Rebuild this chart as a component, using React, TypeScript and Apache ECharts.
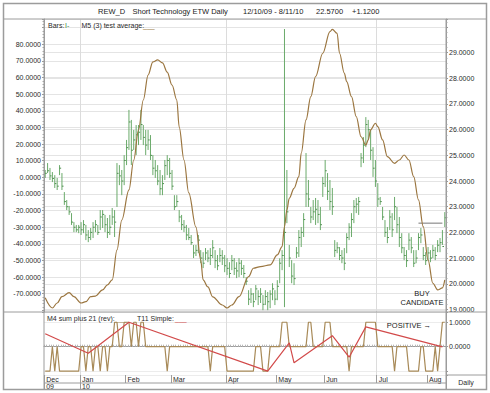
import React, { useEffect, useRef } from 'react';
import * as echarts from 'echarts';

const HOLIDAYS = ['2009-12-25', '2010-01-01', '2010-01-18', '2010-02-15', '2010-04-02', '2010-05-31', '2010-07-05'];
function buildDates(): string[] {
  const out: string[] = [];
  const d = new Date(Date.UTC(2009, 11, 10));
  const end = Date.UTC(2010, 7, 11);
  while (d.getTime() <= end) {
    const wd = d.getUTCDay();
    const s = d.toISOString().slice(0, 10);
    if (wd !== 0 && wd !== 6 && HOLIDAYS.indexOf(s) < 0) out.push(s);
    d.setUTCDate(d.getUTCDate() + 1);
  }
  return out;
}
const DATES = buildDates();
const MONTH_NAMES = ['Jan', 'Feb', 'Mar', 'Apr', 'May', 'Jun', 'Jul', 'Aug', 'Sep', 'Oct', 'Nov', 'Dec'];

const LOW = [24.12, 24.31, 24.04, 23.96, 23.73, 23.65, 24.23, 23.65, 23.07, 22.87,
  22.68, 22.29, 22.01, 22.01, 21.97, 21.90, 21.97, 21.70, 21.62, 21.70,
  21.78, 22.01, 21.90, 22.09, 22.17, 22.01, 21.78, 21.90, 22.29, 21.82,
  22.99, 23.84, 23.45, 23.84, 24.62, 25.21, 24.62, 25.21, 25.01, 25.40,
  25.60, 25.40, 25.01, 25.21, 24.82, 24.23, 24.12, 23.84, 23.45, 23.45,
  24.04, 24.23, 24.12, 23.65, 22.87, 22.99, 22.40, 22.09, 22.01, 21.70,
  21.70, 21.51, 21.00, 21.08, 21.19, 20.80, 20.61, 20.92, 20.84, 20.73,
  21.00, 20.61, 20.53, 20.84, 20.73, 20.45, 20.34, 20.22, 20.53, 20.34,
  20.22, 20.26, 20.34, 20.22, 19.95, 19.17, 19.25, 19.09, 19.36, 19.17,
  19.25, 18.97, 19.17, 18.97, 19.05, 19.36, 19.17, 19.36, 20.02, 20.53,
  19.09, 22.36, 20.65, 20.02, 19.95, 21.00, 21.04, 21.43, 21.82, 22.99,
  22.99, 22.36, 22.48, 22.29, 22.36, 22.09, 23.38, 23.77, 23.26, 22.87,
  22.68, 21.04, 21.19, 20.92, 20.80, 20.53, 21.19, 21.70, 21.82, 22.36,
  22.75, 22.68, 24.54, 24.70, 25.32, 25.60, 24.82, 24.16, 23.77, 22.99,
  23.07, 22.48, 21.82, 21.58, 22.09, 21.82, 22.48, 21.97, 21.43, 21.19,
  20.92, 20.65, 21.31, 21.19, 20.65, 20.80, 21.31, 21.58, 20.92, 20.73,
  20.92, 20.84, 21.00, 20.92, 21.23, 21.23, 21.51, 22.21];
const HIGH = [24.43, 24.70, 24.51, 24.35, 24.23, 24.12, 24.62, 24.31, 23.57, 23.26,
  23.03, 22.75, 22.40, 22.29, 22.29, 22.40, 22.48, 22.29, 22.09, 22.17,
  22.40, 22.48, 22.29, 22.87, 22.87, 22.68, 22.56, 22.68, 22.95, 22.87,
  24.70, 24.62, 24.43, 25.01, 25.60, 26.77, 26.38, 25.99, 26.18, 26.18,
  26.77, 26.18, 25.99, 25.99, 25.79, 25.01, 24.82, 24.62, 24.43, 24.23,
  24.82, 25.01, 24.90, 24.43, 23.45, 23.45, 22.87, 22.68, 22.48, 22.29,
  22.17, 21.90, 21.51, 21.51, 21.90, 21.31, 21.23, 21.39, 21.31, 21.39,
  21.70, 21.31, 21.12, 21.39, 21.31, 21.12, 21.00, 20.84, 21.12, 21.00,
  20.84, 21.00, 20.92, 20.73, 20.26, 19.75, 19.83, 19.64, 19.95, 19.75,
  19.83, 19.56, 19.75, 19.68, 19.75, 20.02, 19.75, 20.14, 20.99, 21.31,
  29.92, 24.43, 21.51, 20.92, 20.80, 21.43, 22.09, 22.21, 22.75, 25.09,
  24.04, 22.99, 23.26, 23.34, 23.26, 22.99, 24.16, 24.82, 24.31, 24.04,
  23.73, 21.70, 21.62, 21.43, 21.31, 21.39, 21.97, 22.36, 22.75, 23.26,
  23.34, 23.38, 25.09, 25.71, 26.49, 26.38, 25.99, 25.32, 24.82, 23.92,
  23.38, 22.99, 22.48, 22.21, 22.87, 22.75, 23.38, 22.99, 22.60, 21.97,
  21.43, 21.31, 21.97, 21.82, 21.31, 21.31, 21.97, 22.17, 21.43, 21.23,
  21.43, 21.31, 21.51, 21.43, 21.70, 21.78, 22.09, 22.79];
const CLOSE = [24.3, 24.4, 24.2, 24.1, 23.9, 23.8, 24.5, 23.8, 23.2, 23.0,
  22.8, 22.4, 22.2, 22.1, 22.2, 22.1, 22.3, 21.9, 21.8, 22.0,
  22.2, 22.3, 22.0, 22.6, 22.7, 22.3, 22.0, 22.2, 22.6, 22.4,
  24.3, 24.2, 24.0, 24.8, 25.3, 26.3, 25.2, 25.6, 25.8, 25.9,
  26.2, 25.7, 25.4, 25.6, 25.0, 24.5, 24.4, 24.0, 23.7, 23.9,
  24.6, 24.8, 24.3, 23.8, 23.0, 23.2, 22.6, 22.3, 22.2, 21.9,
  21.8, 21.6, 21.2, 21.3, 21.7, 21.0, 20.8, 21.2, 21.0, 21.1,
  21.4, 20.9, 20.7, 21.1, 21.0, 20.7, 20.6, 20.4, 20.9, 20.6,
  20.5, 20.8, 20.6, 20.4, 20.1, 19.4, 19.6, 19.3, 19.8, 19.5,
  19.6, 19.2, 19.5, 19.3, 19.6, 19.8, 19.4, 19.9, 20.8, 21.1,
  22.0, 22.8, 21.0, 20.3, 20.2, 21.2, 21.8, 22.0, 22.5, 23.5,
  23.3, 22.6, 22.8, 22.9, 22.7, 22.3, 23.9, 24.4, 23.6, 23.2,
  23.0, 21.3, 21.4, 21.1, 21.0, 20.8, 21.8, 22.2, 22.5, 23.0,
  23.1, 23.2, 24.9, 25.4, 26.2, 26.0, 25.2, 24.5, 24.0, 23.3,
  23.2, 22.6, 22.0, 21.8, 22.6, 22.1, 23.0, 22.3, 21.8, 21.4,
  21.1, 20.9, 21.7, 21.4, 20.8, 21.0, 21.8, 21.9, 21.1, 20.9,
  21.2, 21.0, 21.3, 21.1, 21.5, 21.6, 21.45, 22.57];

// M5 (3) test average: [day index, value] samples (left axis)
const M5 = [[0, -72.5], [3, -78.6], [5, -75.6], [7, -71.8], [10, -69.4], [12, -71.8], [15, -75.6], [17, -74.8], [19, -71.8], [21, -71.4], [24, -67.7], [26, -64.7], [28, -61.7], [30, -43.7], [32, -25.7], [35, -7.6], [37, 10.4], [39, 28.5], [41, 46.5], [43, 61.5], [45, 69.4], [47, 70.6], [49, 68.8], [51, 63.3], [53, 55.5], [55, 46.5], [56, 30.2], [58, 10.4], [60, -9.4], [63, -29.9], [65, -49.7], [66, -61.7], [68, -65.9], [70, -71.9], [74, -76.8], [76, -78.6], [78, -76.8], [81, -71.8], [85, -59.7], [87, -54.7], [90, -53.7], [94, -52.7], [97, -46.7], [99, -41.7], [100, -29.7], [101, -19.6], [102, -12.6], [104, -6.6], [106, 0.4], [107, 14.5], [109, 34.5], [111, 48.5], [113, 60.5], [116, 74.6], [119, 87.6], [120, 89.0], [122, 86.6], [123, 74.6], [125, 62.6], [126, 57.5], [128, 48.5], [130, 36.5], [132, 24.4], [134, 19.4], [135, 22.5], [136, 28.5], [138, 32.5], [139, 30.5], [141, 22.5], [143, 12.4], [146, 8.4], [148, 10.4], [150, 13.4], [152, 10.4], [154, 0.4], [156, -13.6], [158, -29.7], [160, -49.7], [162, -63.7], [164, -67.7], [166, -66.5], [167, -61.7]];

// M4 sum plus 21 (rev): daily values
const M4 = [-1, -1, -1, 0, -1, 0, -1, -1, -1, -1, -1, -1, -1, -1, -1,
  0, 0, -1, 0, 0, -1, 0, 0, -1, 0, 0, -1, 0, 0,
  1, 1, 0, 0, 1, 1, 1, 0, 1, 1, 0, 1, 1, 0,
  0, 0, 0, 0, 0, 0, 0, 0,
  -1,
  0, 0, 0, 0, 0, 0, 0, 0, 0, 0, 0, 0, 0, 0, 0, 0, 0,
  -1,
  0, 0, 0, 0, 0, 0,
  -1, -1, -1, -1, -1, -1, -1, -1, -1, -1, -1, -1,
  0, 0, 0,
  -1, -1, -1,
  0, 0, 0, 0, 0,
  1, 1, 1,
  0, 0, 0, 0, 0, 0, 0, 0,
  1, 1,
  0, 0, 0, 0, 0,
  1, 1, 1,
  0, 0, 0, 0, 0, 0, 0,
  -1,
  0, 0, 0, 0, 0, 0,
  1, 1, 1, 1, 1,
  0, 0, 0, 0, 0, 0, 0,
  -1,
  0, 0, 0, 0, 0,
  -1, -1, -1, -1, -1,
  0, 0,
  -1, -1, -1, -1,
  0, -1, 0, 1, 1];

// T11 Simple: vertices [day index, value]
const T11 = [[0, 0.53], [18, -0.27], [35, 1.0], [93, -1.0], [102, 0.16], [104, -0.66], [120, 0.45], [127, -0.43], [134, 0.81], [166, -0.01]];

// Buy level marker
const BUY_LEVEL = 22.36;
const BUY_FROM = 156;
const BUY_TO = 166;

const FONT = 'Liberation Sans, Arial, Helvetica, sans-serif';
const TXT = '#2a2a2a';
const FRAME = '#9c9c9c';
const GRID_C = '#e4e4e4';
const BAR_C = '#6aaa6a';
const M5_C = '#9b7640';
const M4_C = '#a88a58';
const T11_C = '#d24a4a';

const monthOf = (s: string) => parseInt(s.slice(5, 7), 10) - 1;
const isMonthStart = (i: number) => i === 0 || monthOf(DATES[i]) !== monthOf(DATES[i - 1]);
const isQuarterStart = (i: number) => i > 0 && isMonthStart(i) && [0, 3, 6].indexOf(monthOf(DATES[i])) >= 0;
const isYearStart = (i: number) => i === 0 || DATES[i].slice(0, 4) !== DATES[i - 1].slice(0, 4);

const fmt4 = (v: number) => v.toFixed(4);

export default function App() {
  const ref = useRef<HTMLDivElement>(null);
  useEffect(() => {
    document.body.style.margin = '0';
    const chart = echarts.init(ref.current!, null, { renderer: 'svg' });
    const bars = DATES.map((_, i) => [i, LOW[i], HIGH[i], CLOSE[i]]);
    const txt = (x: number, y: number, text: string, extra: any = {}) => ({
      type: 'text', x, y, z: 100,
      style: { text, fontSize: 7, fill: TXT, fontFamily: FONT, verticalAlign: 'middle', ...extra },
    });
    const option: any = {
      animation: false,
      backgroundColor: '#fff',
      grid: [
        { left: 44, top: 19, width: 402, height: 293 },
        { left: 44, top: 312, width: 402, height: 63 },
      ],
      xAxis: [
        {
          type: 'category', gridIndex: 0, data: DATES, boundaryGap: true,
          axisLine: { show: false }, axisTick: { show: false }, axisLabel: { show: false },
          splitLine: { show: true, interval: (i: number) => isQuarterStart(i), lineStyle: { color: '#dcdcdc', width: 1 } },
        },
        {
          type: 'category', gridIndex: 1, data: DATES, boundaryGap: true,
          axisLine: { show: true, lineStyle: { color: FRAME } },
          axisTick: { show: true, interval: 0, length: 2, inside: true, lineStyle: { color: '#b8b8b8' } },
          axisLabel: { show: false },
          splitLine: { show: true, interval: (i: number) => isQuarterStart(i), lineStyle: { color: '#dcdcdc', width: 1 } },
        },
        {
          type: 'category', gridIndex: 1, data: DATES, boundaryGap: true, position: 'bottom',
          axisLine: { show: false },
          axisTick: { show: true, interval: (i: number) => isMonthStart(i), length: 8, lineStyle: { color: FRAME } },
          axisLabel: {
            show: true, interval: (i: number) => isMonthStart(i), align: 'left', margin: 1, padding: [0, 0, 0, 1],
            fontSize: 7, color: TXT, fontFamily: FONT,
            formatter: (v: string) => MONTH_NAMES[monthOf(v)],
          },
          splitLine: { show: false },
        },
        {
          type: 'category', gridIndex: 1, data: DATES, boundaryGap: true, position: 'bottom', offset: 8,
          axisLine: { show: false },
          axisTick: { show: true, interval: (i: number) => isYearStart(i), length: 7, lineStyle: { color: FRAME } },
          axisLabel: {
            show: true, interval: (i: number) => isYearStart(i), align: 'left', margin: 0, padding: [0, 0, 0, 1],
            fontSize: 7, color: TXT, fontFamily: FONT,
            formatter: (v: string) => v.slice(2, 4),
          },
          splitLine: { show: false },
        },
      ],
      yAxis: [
        {
          type: 'value', gridIndex: 0, position: 'left', min: -81, max: 95.2, splitNumber: 17,
          axisLine: { show: true, lineStyle: { color: FRAME } },
          axisTick: { show: true, length: 2, lineStyle: { color: '#999' } },
          minorTick: { show: true, splitNumber: 5, length: 1.5, lineStyle: { color: '#aaa' } },
          axisLabel: {
            margin: 3, fontSize: 7, color: TXT, fontFamily: FONT,
            formatter: (v: number) => (v > -75 && v < 85 && Math.abs(v / 10 - Math.round(v / 10)) < 1e-6 ? fmt4(v) : ''),
          },
          splitLine: { show: true, lineStyle: { color: GRID_C } },
        },
        {
          type: 'value', gridIndex: 0, position: 'right', min: 18.9, max: 30.31, splitNumber: 11,
          axisLine: { show: true, lineStyle: { color: FRAME } },
          axisTick: { show: true, length: 2, lineStyle: { color: '#999' } },
          minorTick: { show: true, splitNumber: 5, length: 1.5, lineStyle: { color: '#aaa' } },
          axisLabel: {
            margin: 3, fontSize: 7, color: TXT, fontFamily: FONT,
            formatter: (v: number) => (v > 18.95 && v < 29.5 && Math.abs(v - Math.round(v)) < 1e-6 ? fmt4(v) : ''),
          },
          splitLine: { show: true, lineStyle: { color: GRID_C } },
        },
        {
          type: 'value', gridIndex: 1, position: 'right', min: -1.16, max: 1.42, splitNumber: 3,
          axisLine: { show: true, lineStyle: { color: FRAME } },
          axisTick: { show: true, length: 2, lineStyle: { color: '#999' } },
          axisLabel: {
            margin: 3, fontSize: 7, color: TXT, fontFamily: FONT,
            formatter: (v: number) => (Math.abs(v) < 1e-6 || Math.abs(v - 1) < 1e-6 ? fmt4(v) : ''),
          },
          splitLine: { show: true, lineStyle: { color: '#ececec' } },
        },
      ],
      series: [
        {
          type: 'custom', xAxisIndex: 0, yAxisIndex: 1, data: bars,
          encode: { x: 0, y: [1, 2, 3] },
          renderItem: (params: any, api: any) => {
            const x = api.value(0);
            const lo = api.coord([x, api.value(1)]);
            const hi = api.coord([x, api.value(2)]);
            const cl = api.coord([x, api.value(3)]);
            return {
              type: 'group',
              children: [
                { type: 'line', shape: { x1: lo[0], y1: lo[1], x2: hi[0], y2: hi[1] }, style: { stroke: BAR_C, lineWidth: 1 } },
                { type: 'line', shape: { x1: cl[0], y1: cl[1], x2: cl[0] + 1.6, y2: cl[1] }, style: { stroke: '#4f8f4f', lineWidth: 1 } },
              ],
            };
          },
          z: 2,
        },
        {
          type: 'line', xAxisIndex: 0, yAxisIndex: 1, data: [[BUY_FROM, BUY_LEVEL], [BUY_TO, BUY_LEVEL]],
          showSymbol: false, lineStyle: { color: '#777', width: 1 }, z: 3,
        },
        {
          type: 'line', xAxisIndex: 0, yAxisIndex: 0, data: M5, smooth: 0.35, smoothMonotone: 'x',
          showSymbol: false, lineStyle: { color: M5_C, width: 1.2 }, z: 4,
        },
        {
          type: 'line', xAxisIndex: 1, yAxisIndex: 2, data: M4,
          showSymbol: false, lineStyle: { color: M4_C, width: 1.2 }, z: 3,
        },
        {
          type: 'line', xAxisIndex: 1, yAxisIndex: 2, data: T11,
          showSymbol: false, lineStyle: { color: T11_C, width: 1.2 }, z: 4,
        },
      ],
      graphic: [
        { type: 'rect', z: 90, shape: { x: 3.5, y: 3.5, width: 483, height: 386 }, style: { fill: 'none', stroke: FRAME, lineWidth: 1.5 }, silent: true },
        { type: 'line', z: 90, shape: { x1: 3, y1: 19, x2: 487, y2: 19 }, style: { stroke: FRAME, lineWidth: 1 } },
        { type: 'line', z: 90, shape: { x1: 3, y1: 312, x2: 487, y2: 312 }, style: { stroke: FRAME, lineWidth: 1 } },
        { type: 'line', z: 90, shape: { x1: 446, y1: 375, x2: 487, y2: 375 }, style: { stroke: FRAME, lineWidth: 1 } },
        { type: 'line', z: 90, shape: { x1: 44, y1: 383, x2: 446, y2: 383 }, style: { stroke: FRAME, lineWidth: 1 } },
        { type: 'line', z: 90, shape: { x1: 44, y1: 19, x2: 44, y2: 390 }, style: { stroke: FRAME, lineWidth: 1 } },
        { type: 'line', z: 90, shape: { x1: 446, y1: 19, x2: 446, y2: 390 }, style: { stroke: FRAME, lineWidth: 1 } },
        txt(98, 11, 'REW_D', { fontSize: 7.5, fill: '#1a1a1a' }),
        txt(132.5, 11, 'Short Technology ETW Daily', { fontSize: 7.5, fill: '#1a1a1a' }),
        txt(243, 11, '12/10/09 - 8/11/10', { fontSize: 7.5, fill: '#1a1a1a' }),
        txt(316, 11, '22.5700', { fontSize: 7.5, fill: '#1a1a1a' }),
        txt(352, 11, '+1.1200', { fontSize: 7.5, fill: '#1a1a1a' }),
        txt(48, 25, 'Bars:'),
        txt(65, 25, 'I-', { fill: '#3f8a3f' }),
        txt(81.5, 25, 'M5 (3) test average:'),
        txt(143, 25, '___', { fill: M5_C }),
        txt(47, 318, 'M4 sum plus 21 (rev):'),
        txt(115, 318, '___', { fill: M4_C }),
        txt(137, 318, 'T11 Simple:'),
        txt(175, 318, '___', { fill: T11_C }),
        txt(431, 325, 'POSITIVE →', { fontSize: 7.5, fill: '#1a1a1a', align: 'right' }),
        txt(422, 293, 'BUY', { fontSize: 7.5, fill: '#1a1a1a', align: 'center' }),
        txt(422, 302, 'CANDIDATE', { fontSize: 7.5, fill: '#1a1a1a', align: 'center' }),
        txt(466, 382.5, 'Daily', { align: 'center' }),
      ],
    };
    chart.setOption(option);
    return () => chart.dispose();
  }, []);
  return <div ref={ref} style={{ width: 490, height: 393, background: '#fff' }} />;
}
